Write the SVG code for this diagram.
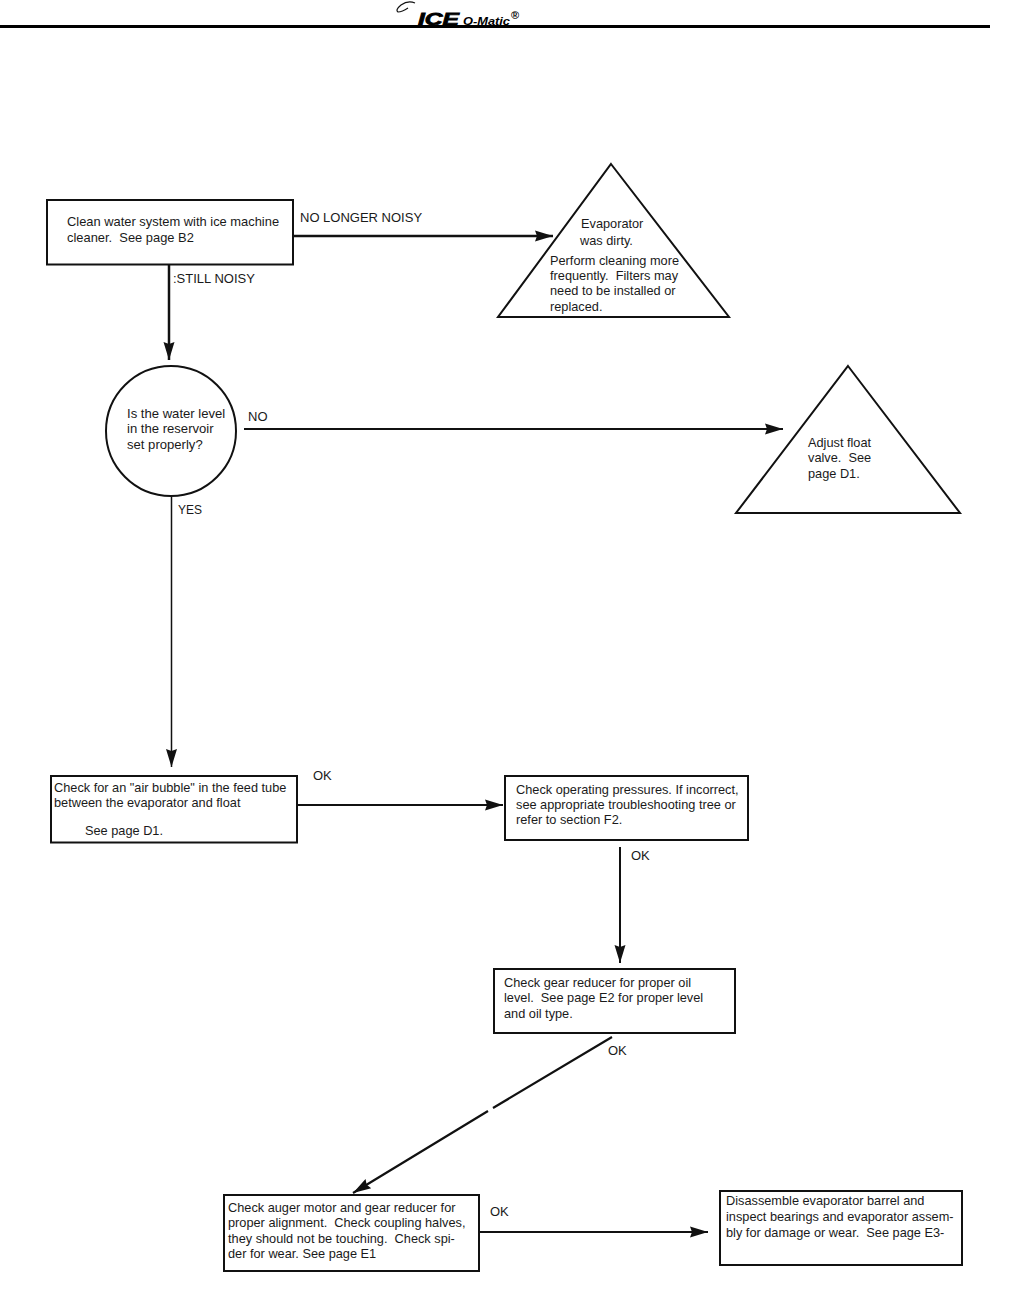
<svg xmlns="http://www.w3.org/2000/svg" width="1012" height="1303" viewBox="0 0 1012 1303">
<style>
text{font-family:"Liberation Sans",Arial,sans-serif;font-size:12.750px;fill:#1a1a1a;white-space:pre}
.l{font-size:13px}
.n{fill:#fff;stroke:#111;stroke-width:2}
.c{fill:none;stroke:#111;stroke-width:2}
.w{font-size:12.900px}
.b{font-size:13.100px}
</style>
<defs><marker id="a" markerUnits="userSpaceOnUse" markerWidth="20" markerHeight="14" refX="18" refY="7" orient="auto"><path d="M0 1.500L18 7L0 12.500L2 7z" fill="#111"/></marker></defs>
<rect width="1012" height="1303" fill="#fff"/>
<g id="header">
<path d="M0 26.500H990" stroke="#000" stroke-width="3"/>
<path d="M415 3Q408 0 401 5Q395 10 398 12Q402 12 408 8" fill="none" stroke="#111" stroke-width="1.200"/>
<text x="418" y="25" textLength="41" lengthAdjust="spacingAndGlyphs" style="font-size:17px;font-weight:bold;font-style:italic;fill:#000;stroke:#000;stroke-width:.8">ICE</text>
<text x="463" y="25" textLength="47" lengthAdjust="spacingAndGlyphs" style="font-size:10.500px;font-weight:bold;font-style:italic;fill:#000">O-Matic</text>
<text x="511" y="19" style="font-size:11px;font-weight:bold;fill:#000">®</text>
</g>
<g id="connectors">
<path class="c" d="M294 236H553" marker-end="url(#a)" style="stroke-width:2.500"/>
<path class="c" d="M169 265V360" marker-end="url(#a)" style="stroke-width:2.500"/>
<path class="c" d="M244 429H783" marker-end="url(#a)"/>
<path class="c" d="M171.500 497V767" marker-end="url(#a)" style="stroke-width:1.500"/>
<path class="c" d="M298 805H503" marker-end="url(#a)"/>
<path class="c" d="M620 847V963" marker-end="url(#a)"/>
<path class="c" d="M612 1037L493 1108M488 1111L353 1193" marker-end="url(#a)" style="stroke-width:2.200"/>
<path class="c" d="M480 1232H708" marker-end="url(#a)"/>
</g>
<g id="n1"><rect class="n" x="47" y="200" width="246" height="64.500"/>
<text class="w" x="67" y="226">Clean water system with ice machine</text><text class="w" x="67" y="242">cleaner.  See page B2</text></g>
<g id="t1"><path class="n" d="M611 164L729 317H498z"/>
<text x="581" y="228">Evaporator</text><text x="580" y="245">was dirty.</text>
<text x="550" y="265">Perform cleaning more</text><text x="550" y="280">frequently.  Filters may</text><text x="550" y="295">need to be installed or</text><text x="550" y="311">replaced.</text></g>
<g id="n2"><circle class="n" cx="171" cy="431" r="65"/>
<text class="b" x="127" y="418">Is the water level</text><text class="b" x="127" y="433">in the reservoir</text><text class="b" x="127" y="449">set properly?</text></g>
<g id="t2"><path class="n" d="M848 366L960 513H736z"/>
<text x="808" y="447">Adjust float</text><text x="808" y="462">valve.  See</text><text x="808" y="478">page D1.</text></g>
<g id="n3"><rect class="n" x="51" y="776" width="246" height="66.500"/>
<text x="54" y="792">Check for an "air bubble" in the feed tube</text><text x="54" y="807">between the evaporator and float</text><text x="85" y="835">See page D1.</text></g>
<g id="n4"><rect class="n" x="505" y="776" width="243" height="64"/>
<text x="516" y="794">Check operating pressures. If incorrect,</text><text x="516" y="809">see appropriate troubleshooting tree or</text><text x="516" y="824">refer to section F2.</text></g>
<g id="n5"><rect class="n" x="494" y="969" width="241" height="64"/>
<text x="504" y="987">Check gear reducer for proper oil</text><text x="504" y="1002">level.  See page E2 for proper level</text><text x="504" y="1018">and oil type.</text></g>
<g id="n6"><rect class="n" x="224" y="1195" width="255" height="76"/>
<text x="228" y="1212">Check auger motor and gear reducer for</text><text x="228" y="1227">proper alignment.  Check coupling halves,</text><text x="228" y="1243">they should not be touching.  Check spi-</text><text x="228" y="1258">der for wear. See page E1</text></g>
<g id="n7"><rect class="n" x="720" y="1191" width="242" height="74"/>
<text x="726" y="1205">Disassemble evaporator barrel and</text><text x="726" y="1221">inspect bearings and evaporator assem-</text><text x="726" y="1237">bly for damage or wear.  See page E3-</text></g>
<g id="labels">
<text class="l" x="300" y="222">NO LONGER NOISY</text>
<text class="l" x="173" y="283">:STILL NOISY</text>
<text class="l" x="248" y="421">NO</text>
<text class="l" x="178" y="514" style="font-size:12px">YES</text>
<text class="l" x="313" y="780">OK</text>
<text class="l" x="631" y="860">OK</text>
<text class="l" x="608" y="1055">OK</text>
<text class="l" x="490" y="1216">OK</text>
</g>
</svg>
